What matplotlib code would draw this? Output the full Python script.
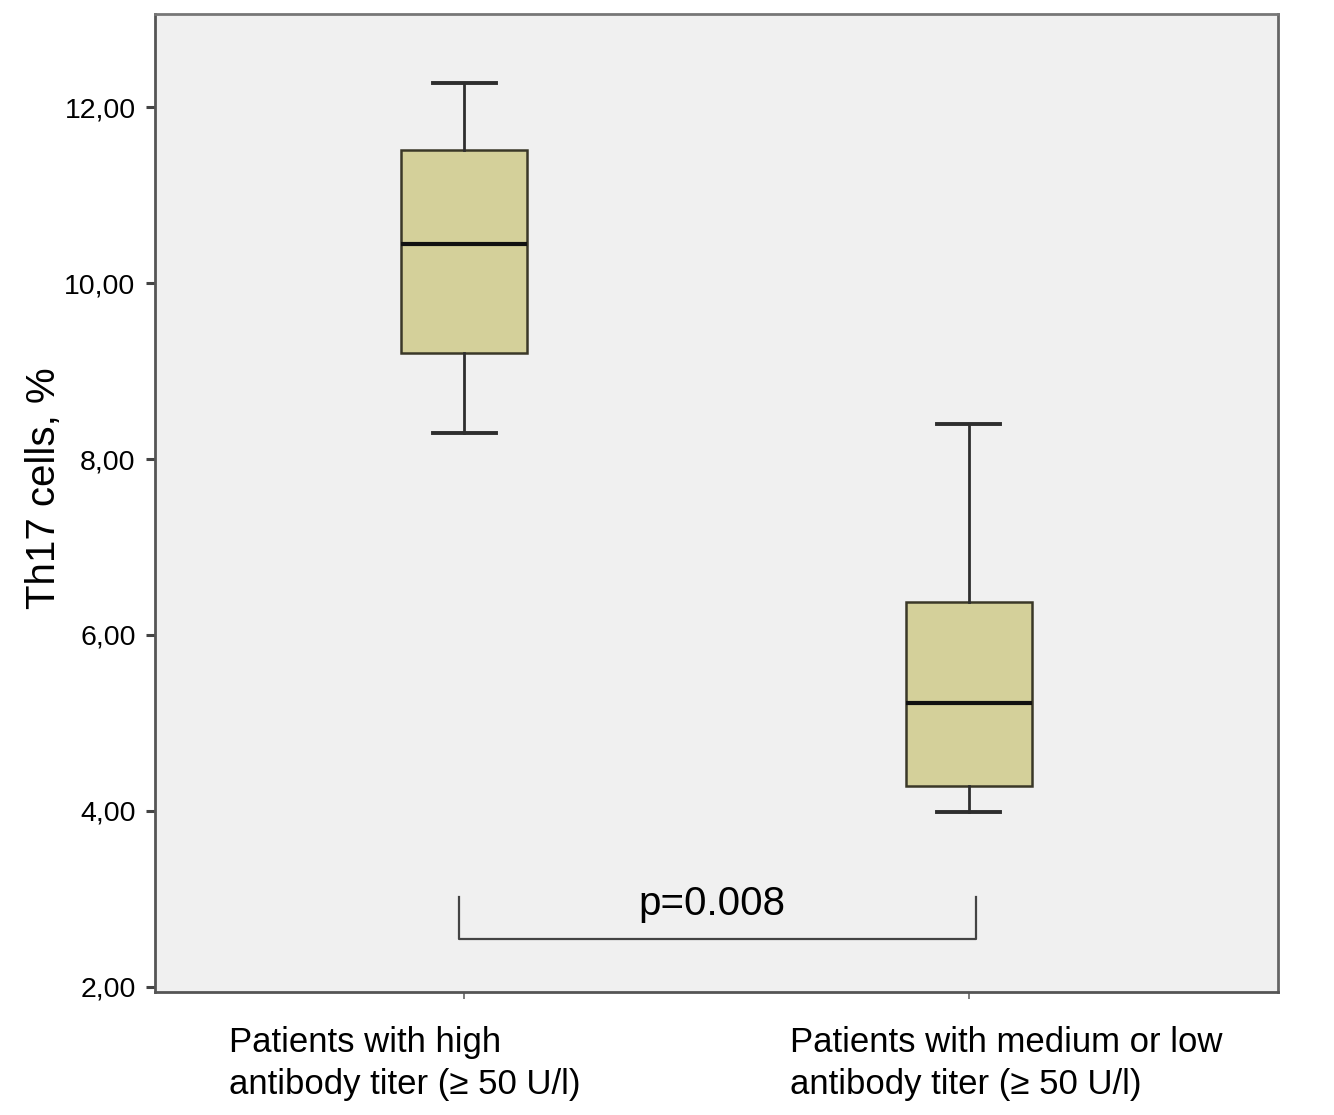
import matplotlib
matplotlib.use("Agg")
import matplotlib.pyplot as plt
import matplotlib.transforms as mtransforms

plt.rcParams['font.family'] = ['Liberation Sans', 'DejaVu Sans']

# Data
groups = ["Patients with high\nantibody titer (\u2265 50 U/l)",
          "Patients with medium or low\nantibody titer (\u2265 50 U/l)"]
whisker_low = [8.30, 3.99]
q1 = [9.21, 4.28]
median = [10.44, 5.23]
q3 = [11.51, 6.38]
whisker_high = [12.28, 8.40]
yticks = [2, 4, 6, 8, 10, 12]
ytick_labels = ["2,00", "4,00", "6,00", "8,00", "10,00", "12,00"]
p_text = "p=0.008"

fig = plt.figure(figsize=(13.34, 11.15), dpi=100)
ax = fig.add_axes([155/1334, 1-992/1115, (1278-155)/1334, (992-14)/1115])
ax.set_facecolor("#F0F0F0")

stats = []
for i in range(len(groups)):
    stats.append(dict(whislo=whisker_low[i], q1=q1[i], med=median[i],
                      q3=q3[i], whishi=whisker_high[i], fliers=[]))

positions = list(range(1, len(groups) + 1))
ax.bxp(stats, positions=positions, widths=0.25, patch_artist=True,
       showfliers=False,
       boxprops=dict(facecolor="#D4D09A", edgecolor="#3A3828", linewidth=1.8),
       medianprops=dict(color="#111111", linewidth=3.0),
       whiskerprops=dict(color="#2E2E2E", linewidth=2.0),
       capprops=dict(color="#2E2E2E", linewidth=2.8),
       capwidths=0.125)

ax.set_xlim(0.387, 2.613)
ax.set_ylim(1.94, 13.06)

ax.set_yticks(yticks)
ax.set_yticklabels(ytick_labels, fontsize=20.5)
ax.set_xticks(positions)
ax.set_xticklabels([""] * len(groups))
ax.tick_params(axis='y', direction='out', length=6.5, width=2.2, color="#444444", pad=7.5)
ax.tick_params(axis='x', direction='out', length=5, width=1.2, color="#666666")

for s in ax.spines.values():
    s.set_color("#555555")
    s.set_linewidth(2)
ax.spines['top'].set_color("#777777")
ax.spines['right'].set_color("#666666")

ax.set_ylabel("Th17 cells, %", fontsize=29)
ax.yaxis.set_label_coords(-0.082, 0.515)

# group labels (left-aligned blocks below axis)
trans = mtransforms.blended_transform_factory(ax.transData, ax.transAxes)
label_x = [0.534, 1.645]
for x, g in zip(label_x, groups):
    ax.text(x, -0.035, g, transform=trans, ha='left', va='top', fontsize=25,
            linespacing=1.33, clip_on=False)

# significance bracket
bx = [positions[0] - 0.01, positions[0] - 0.01, positions[1] + 0.014, positions[1] + 0.014]
by = [3.025, 2.547, 2.547, 3.025]
ax.plot(bx, by, color="#444444", linewidth=1.6)
ax.text((positions[0] + positions[1]) / 2 - 0.01, 2.72, p_text, ha='center', va='bottom', fontsize=29)

fig.savefig("out.png", dpi=100)
